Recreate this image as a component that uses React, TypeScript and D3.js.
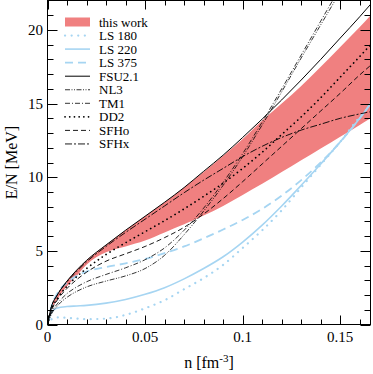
import React from 'react';
import * as d3 from 'd3';

// shared density grid (fm^-3) for every curve
const densities = [0, 0.002, 0.005, 0.01, 0.015, 0.02, 0.03, 0.04, 0.05, 0.06, 0.07, 0.08, 0.09, 0.10, 0.11, 0.12, 0.13, 0.14, 0.15, 0.16, 0.1656];

// this work band (MeV)
const bandUpper = [0, 1.2, 2.0, 2.95, 3.7, 4.35, 5.4, 6.4, 7.35, 8.3, 9.3, 10.35, 11.45, 12.6, 13.85, 15.0, 16.2, 17.5, 18.85, 20.2, 21.0];
const bandLower = [0, 0.95, 1.7, 2.6, 3.3, 4.05, 4.9, 5.3, 5.7, 6.25, 6.8, 7.4, 8.05, 8.8, 9.55, 10.35, 11.15, 11.95, 12.75, 13.55, 14.0];

const ls180 = [0, 0.35, 0.48, 0.46, 0.4, 0.36, 0.4, 0.65, 1.1, 1.65, 2.4, 3.15, 4.05, 5.2, 6.4, 7.75, 9.3, 10.85, 12.4, 14.1, 14.9];
const ls220 = [0, 0.85, 1.12, 1.22, 1.26, 1.3, 1.45, 1.7, 2.05, 2.5, 3.1, 3.8, 4.6, 5.6, 6.75, 8.05, 9.45, 10.9, 12.4, 14.0, 15.0];
const ls375 = [0, 1.2, 2.1, 2.85, 3.3, 3.6, 3.9, 4.15, 4.45, 4.85, 5.3, 5.85, 6.45, 7.1, 7.85, 8.75, 9.8, 11.0, 12.4, 14.0, 15.0];
const fsu21 = [0, 1.2, 2.0, 2.95, 3.7, 4.35, 5.4, 6.4, 7.35, 8.3, 9.3, 10.4, 11.5, 12.7, 13.95, 15.25, 16.6, 18.0, 19.45, 20.9, 21.75];
const nl3 = [0, 0.7, 1.25, 1.85, 2.25, 2.55, 2.95, 3.3, 3.8, 4.7, 6.1, 7.7, 9.45, 11.4, 13.55, 15.8, 18.1, 20.35, 22.6, 24.9, 26.2];
const tm1 = [0, 0.8, 1.4, 2.1, 2.55, 2.9, 3.4, 3.85, 4.4, 5.2, 6.4, 7.9, 9.65, 11.6, 13.75, 16.0, 18.3, 20.6, 22.9, 25.2, 26.6];
const dd2 = [0, 1.0, 1.75, 2.6, 3.25, 3.8, 4.75, 5.55, 6.3, 7.05, 7.85, 8.7, 9.6, 10.6, 11.7, 12.9, 14.1, 15.4, 16.8, 18.2, 19.0];
const sfho = [0, 0.95, 1.65, 2.45, 3.05, 3.55, 4.3, 4.8, 5.3, 5.9, 6.6, 7.5, 8.55, 9.7, 10.9, 12.1, 13.3, 14.5, 15.7, 16.95, 17.6];
const sfhx = [0, 1.2, 2.0, 2.9, 3.6, 4.25, 5.3, 6.25, 7.15, 8.05, 8.95, 9.8, 10.6, 11.4, 12.1, 12.7, 13.2, 13.6, 14.0, 14.3, 14.45];

const xTickLabels = ['0', '0.05', '0.1', '0.15'];
const yTickLabels = ['0', '5', '10', '15', '20'];

const BLUE = '#a6d5f2';
const BAND = '#f08080';
const FONT = '"Liberation Serif", "Times New Roman", serif';

const models = [
  { name: 'LS 180', values: ls180, color: BLUE, width: 2.2, dash: '0.1,6.5', cap: 'round' },
  { name: 'LS 220', values: ls220, color: BLUE, width: 1.6, dash: null, cap: 'butt' },
  { name: 'LS 375', values: ls375, color: BLUE, width: 1.8, dash: '8,5', cap: 'butt' },
  { name: 'FSU2.1', values: fsu21, color: '#000', width: 1, dash: null, cap: 'butt' },
  { name: 'NL3', values: nl3, color: '#000', width: 0.8, dash: '5,1.5,1,1.5,1,1.5', cap: 'butt' },
  { name: 'TM1', values: tm1, color: '#000', width: 0.8, dash: '5,2,1,2', cap: 'butt' },
  { name: 'DD2', values: dd2, color: '#000', width: 1.7, dash: '0.1,4.6', cap: 'round' },
  { name: 'SFHo', values: sfho, color: '#000', width: 0.9, dash: '5,3', cap: 'butt' },
  { name: 'SFHx', values: sfhx, color: '#000', width: 0.9, dash: '7,2,2,2', cap: 'butt' },
];

const W = 373, H = 374;
const left = 47.5, right = 370.5, top = 0.5, bottom = 324.5;

export default function App() {
  const x = d3.scaleLinear().domain([0, 0.1655]).range([left, right]);
  const y = d3.scaleLinear().domain([0, 22]).range([bottom, top]);

  const area = d3.area<number>()
    .x((_, i) => x(densities[i]))
    .y0((_, i) => y(bandLower[i]))
    .y1((_, i) => y(bandUpper[i]))
    .curve(d3.curveMonotoneX);

  const line = (vals: number[]) => d3.line<number>()
    .x((_, i) => x(densities[i]))
    .y(d => y(d))
    .curve(d3.curveMonotoneX)(vals);

  const xMajor = [0, 0.05, 0.1, 0.15];
  const xMinor = d3.range(0.01, 0.166, 0.01).filter(v => Math.abs(v / 0.05 - Math.round(v / 0.05)) > 1e-6);
  const yMajor = [0, 5, 10, 15, 20];
  const yMinor = d3.range(1, 22, 1).filter(v => v % 5 !== 0);

  const legendY = (i: number) => 22 + i * 13.55;
  const px = (v: number) => Math.round(v) + 0.5;

  return (
    <svg width={W} height={H} style={{ position: 'absolute', left: 0, top: 0, background: '#fff' }} fontFamily={FONT}>
      <defs>
        <clipPath id="plot-clip">
          <rect x={left} y={top} width={right - left} height={bottom - top} />
        </clipPath>
      </defs>

      <g clipPath="url(#plot-clip)">
        <path d={area(bandUpper) || ''} fill={BAND} stroke="none" />
        {models.map(m => (
          <path key={m.name} d={line(m.values) || ''} fill="none" stroke={m.color}
            strokeWidth={m.width} strokeDasharray={m.dash || undefined}
            strokeLinecap={m.cap as any} />
        ))}
      </g>

      {/* frame */}
      <rect x={left} y={top} width={right - left} height={bottom - top} fill="none" stroke="#000" strokeWidth={1} />

      {/* ticks, pointing inward on all four sides */}
      <g stroke="#000" strokeWidth={1}>
        {xMajor.map(v => (
          <g key={'xM' + v}>
            <line x1={px(x(v))} x2={px(x(v))} y1={bottom} y2={bottom - 9} />
            <line x1={px(x(v))} x2={px(x(v))} y1={top} y2={top + 9} />
          </g>
        ))}
        {xMinor.map(v => (
          <g key={'xm' + v}>
            <line x1={px(x(v))} x2={px(x(v))} y1={bottom} y2={bottom - 5} />
            <line x1={px(x(v))} x2={px(x(v))} y1={top} y2={top + 5} />
          </g>
        ))}
        {yMajor.map(v => (
          <g key={'yM' + v}>
            <line x1={left} x2={left + 10} y1={px(y(v))} y2={px(y(v))} />
            <line x1={right} x2={right - 10} y1={px(y(v))} y2={px(y(v))} />
          </g>
        ))}
        {yMinor.map(v => (
          <g key={'ym' + v}>
            <line x1={left} x2={left + 6} y1={px(y(v))} y2={px(y(v))} />
            <line x1={right} x2={right - 6} y1={px(y(v))} y2={px(y(v))} />
          </g>
        ))}
      </g>

      {/* tick labels */}
      <g fontSize={15} fill="#000">
        {xMajor.map((v, i) => (
          <text key={'xl' + v} x={x(v)} y={341.5} textAnchor="middle">{xTickLabels[i]}</text>
        ))}
        {yMajor.map((v, i) => (
          <text key={'yl' + v} x={43} y={y(v) + 5} textAnchor="end">{yTickLabels[i]}</text>
        ))}
      </g>

      {/* axis titles */}
      <text x={(left + right) / 2} y={368} textAnchor="middle" fontSize={16}>
        n [fm<tspan dy={-6} fontSize={11}>-3</tspan><tspan dy={6}>]</tspan>
      </text>
      <text transform={`translate(17, ${(top + bottom) / 2}) rotate(-90)`} textAnchor="middle" fontSize={16}>
        E/N [MeV]
      </text>

      {/* legend */}
      <g fontSize={13}>
        <rect x={65} y={legendY(0) - 4.5} width={25} height={9} fill={BAND} />
        <text x={99} y={legendY(0) + 4.5}>this work</text>
        {models.map((m, i) => (
          <g key={'lg' + m.name}>
            <line x1={65} x2={90} y1={legendY(i + 1)} y2={legendY(i + 1)} stroke={m.color}
              strokeWidth={m.width} strokeDasharray={m.dash || undefined}
              strokeLinecap={m.cap as any} />
            <text x={99} y={legendY(i + 1) + 4.5}>{m.name}</text>
          </g>
        ))}
      </g>
    </svg>
  );
}
